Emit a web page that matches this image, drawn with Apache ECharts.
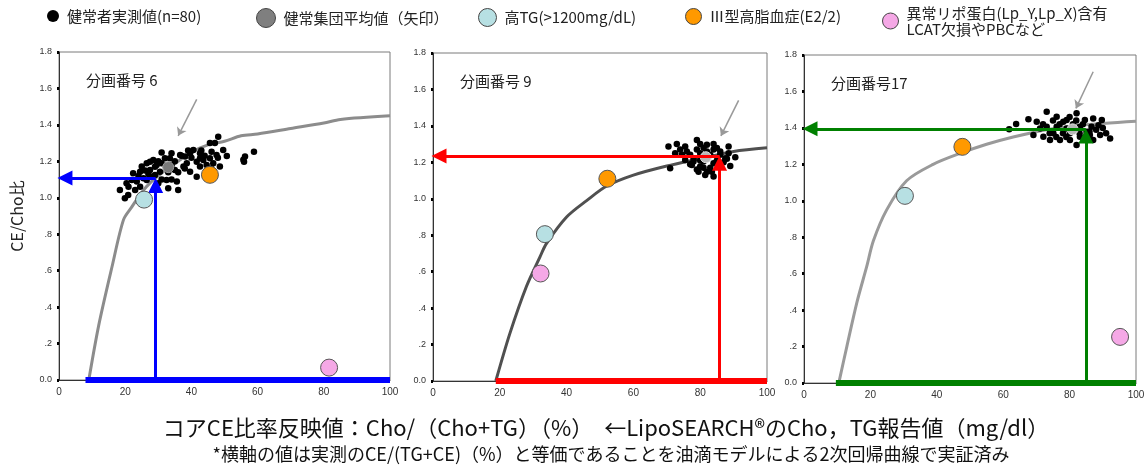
<!DOCTYPE html>
<html>
<head>
    <meta charset="utf-8">
    <title>分画番号 CE/Cho比</title>
    <script type="text/javascript" src="https://cdn.jsdelivr.net/npm/echarts@6/dist/echarts.min.js"></script>
    <style>
        html, body { margin: 0; padding: 0; background: #fff; }
    </style>
</head>
<body>
<!-- 図のコンテナ -->
<div id="main" style="width:1148px;height:471px"></div>
<script type="text/javascript">
    // 凡例名
    var names = ['健常者実測値(n=80)', '健常集団平均値（矢印）', '高TG(>1200mg/dL)', 'Ⅲ型高脂血症(E2/2)', '異常リポ蛋白(Lp_Y,Lp_X)含有\nLCAT欠損やPBCなど'];
    var panelTitles = ['分画番号 6', '分画番号 9', '分画番号17'];
    var yTicks = ['0.0', '.2', '.4', '.6', '.8', '1.0', '1.2', '1.4', '1.6', '1.8'];

    // 回帰曲線 [Cho/(Cho+TG), CE/Cho]
    var curve6 = [[9, 0], [12, 0.3], [16, 0.62], [19.5, 0.88], [22, 0.95], [25, 1.03], [28, 1.09], [32, 1.15], [36, 1.2], [40, 1.25], [45, 1.29], [50, 1.31], [55, 1.34], [60, 1.35], [70, 1.38], [80, 1.41], [85, 1.43], [100, 1.45]];
    var curve9 = [[18.8, 0], [23, 0.26], [28, 0.52], [32, 0.68], [34, 0.755], [40, 0.9], [46, 0.99], [52, 1.07], [60, 1.13], [70, 1.18], [80, 1.22], [90, 1.26], [100, 1.28]];
    var curve17 = [[10.6, 0.01], [12.9, 0.2], [15.9, 0.44], [18.9, 0.64], [20.9, 0.78], [24.9, 0.95], [30.9, 1.11], [38.9, 1.2], [47, 1.26], [55, 1.31], [63, 1.35], [73, 1.39], [83, 1.415], [100, 1.437]];

    // 健常者実測値
    var dots6 = [[48.1, 1.335], [47.1, 1.3], [45.6, 1.3], [58.9, 1.253], [56.2, 1.226], [55.9, 1.198], [50.7, 1.229], [49.6, 1.262], [46.1, 1.253], [42.6, 1.244],
        [40.6, 1.262], [39.6, 1.244], [38.1, 1.226], [36.6, 1.235], [34.0, 1.244], [31.0, 1.248], [33.5, 1.217], [28.5, 1.207], [27.5, 1.198], [26.5, 1.189],
        [29.5, 1.18], [27.5, 1.153], [25.0, 1.171], [24.5, 1.143], [22.4, 1.134], [22.0, 1.098], [20.4, 1.08], [18.4, 1.043], [19.9, 0.997], [20.9, 1.015],
        [26.5, 1.098], [28.0, 1.116], [32.5, 1.098], [35.6, 1.089], [33.0, 1.052], [36.0, 1.043], [30.5, 1.143], [35.0, 1.153], [37.6, 1.171], [41.6, 1.198],
        [43.6, 1.207], [42.6, 1.171], [44.6, 1.18], [46.6, 1.189], [48.6, 1.171], [41.6, 1.116], [30.0, 1.08], [24.5, 1.061], [23.5, 1.089], [38.6, 1.189],
        [39.6, 1.143], [45.6, 1.217], [47.6, 1.235], [42.6, 1.217], [34.0, 1.18], [32.0, 1.217], [29.0, 1.125], [25.5, 1.107], [23.0, 1.043], [55.7, 1.209],
        [29, 1.17], [31, 1.19], [33, 1.14], [27, 1.13], [30, 1.2], [35, 1.2], [36, 1.14], [38, 1.16], [40, 1.22], [44, 1.23],
        [46, 1.16], [26, 1.15], [31, 1.1], [34, 1.1], [37, 1.23], [39, 1.26], [43, 1.26], [48, 1.22], [24, 1.12], [21, 1.06]];
    var dots9 = [[70.5, 1.287], [73, 1.301], [75.5, 1.287], [79, 1.323], [82, 1.296], [85, 1.278], [88.5, 1.287], [90.5, 1.228], [89, 1.18], [86, 1.177],
        [84, 1.122], [82, 1.149], [80, 1.177], [77.5, 1.186], [74.5, 1.241], [72.5, 1.25], [71, 1.167], [77, 1.241], [80, 1.25], [83, 1.241],
        [86, 1.241], [87.5, 1.222], [84, 1.195], [81, 1.204], [78, 1.204], [75.5, 1.213], [79.5, 1.149], [81.5, 1.131], [83.5, 1.149], [85.5, 1.195],
        [88.5, 1.25], [79, 1.27], [81, 1.28], [84, 1.27], [76, 1.26], [78, 1.22], [82, 1.22], [85, 1.21], [83, 1.17], [80, 1.21],
        [87, 1.2], [86, 1.26], [74, 1.27], [77, 1.19], [82, 1.26], [88, 1.22], [79, 1.16], [84, 1.3], [80, 1.3], [81, 1.17]];
    var dots17 = [[61.8, 1.392], [63.9, 1.421], [67.6, 1.447], [70.1, 1.434], [73.1, 1.489], [76.1, 1.461], [79.1, 1.443], [82.1, 1.48], [84.6, 1.443], [87.1, 1.452],
        [89.7, 1.443], [69.1, 1.361], [72.1, 1.351], [75.1, 1.37], [77.1, 1.333], [80.1, 1.333], [82.1, 1.306], [83.1, 1.351], [86.1, 1.361], [89.2, 1.361],
        [92.2, 1.342], [73.1, 1.406], [76.1, 1.406], [79.1, 1.397], [83.1, 1.406], [86.6, 1.406], [88.7, 1.415], [78.1, 1.434], [71.1, 1.397], [74.1, 1.333],
        [80.1, 1.37], [85.1, 1.379], [87.1, 1.333], [75, 1.44], [81, 1.42], [84, 1.42], [86, 1.38], [78, 1.37], [82, 1.44], [88, 1.39],
        [90, 1.4], [74, 1.37], [77, 1.42], [80, 1.46], [83, 1.37], [85, 1.35], [79, 1.35], [76, 1.35], [91, 1.37], [72, 1.42]];

    // 平均値・症例 [x, y]
    var mean6 = [33.0, 1.168], mean9 = [81.7, 1.228], mean17 = [80.9, 1.392];
    var tg6 = [25.7, 0.99], tg9 = [33.5, 0.806], tg17 = [30.4, 1.027];
    var e22_6 = [45.6, 1.126], e22_9 = [52.2, 1.11], e22_17 = [47.7, 1.296];
    var abn6 = [81.6, 0.068], abn9 = [32.2, 0.59], abn17 = [95.2, 0.253];

    // 報告値の読み取り [x, y] と横軸の範囲
    var read6 = [29.2, 1.108], read9 = [85.8, 1.235], read17 = [84.9, 1.395];
    var range6 = [8, 100], range9 = [18.8, 100], range17 = [9.6, 100];
    // 矢印（平均値を指す） [始点x, 始点y, 終点x, 終点y]
    var pointer6 = [41.6, 1.54, 36.0, 1.34];
    var pointer9 = [91.5, 1.54, 86.2, 1.345];
    var pointer17 = [87.1, 1.708, 81.9, 1.507];

    var panels = [
        { curve: curve6, dots: dots6, mean: mean6, tg: tg6, e22: e22_6, abn: abn6, read: read6, range: range6, pointer: pointer6, color: '#0000ff', curveColor: '#8c8c8c', meanColor: '#7a7a7a', meanBorder: '#9a9a9a' },
        { curve: curve9, dots: dots9, mean: mean9, tg: tg9, e22: e22_9, abn: abn9, read: read9, range: range9, pointer: pointer9, color: '#ff0000', curveColor: '#505050', meanColor: '#b8b8b8', meanBorder: '#e0e0e0' },
        { curve: curve17, dots: dots17, mean: mean17, tg: tg17, e22: e22_17, abn: abn17, read: read17, range: range17, pointer: pointer17, color: '#008000', curveColor: '#9a9a9a', meanColor: '#b8b8b8', meanBorder: '#e8e8e8' }
    ];
    var gridPos = [
        { left: 59, top: 52, width: 331, height: 328 },
        { left: 433, top: 53, width: 334, height: 328 },
        { left: 804, top: 55, width: 332, height: 328 }
    ];

    var jp = '"Noto Sans CJK JP", sans-serif';
    var grids = [], xAxes = [], yAxes = [], series = [], titles = [];

    gridPos.forEach(function (g, i) {
        grids.push({ left: g.left, top: g.top, width: g.width, height: g.height, show: true, borderColor: '#7a7a7a', borderWidth: 1 });
        xAxes.push({
            type: 'value', gridIndex: i, min: 0, max: 100, interval: 20,
            splitLine: { show: false },
            axisLine: { show: true, lineStyle: { color: '#333', width: 1 } },
            axisTick: { show: false },
            axisLabel: { fontSize: 10, color: '#333', margin: 7, fontFamily: 'Liberation Sans' }
        });
        yAxes.push({
            type: 'value', gridIndex: i, min: 0, max: 1.8, interval: 0.2,
            name: i === 0 ? 'CE/Cho比' : '', nameLocation: 'middle', nameGap: 34, nameRotate: 90,
            nameTextStyle: { fontSize: 16, color: '#222', fontFamily: jp },
            splitLine: { show: false },
            axisLine: { show: true, lineStyle: { color: '#333', width: 1 } },
            axisTick: { show: true, length: 2, lineStyle: { color: '#000', width: 3 } },
            axisLabel: {
                fontSize: 9, color: '#333', margin: 7, fontFamily: 'Liberation Sans',
                formatter: function (v) { return yTicks[Math.round(v * 5)]; }
            }
        });
        titles.push({ text: panelTitles[i], left: g.left + 22, top: g.top + 16, textStyle: { fontSize: 15, fontWeight: 'normal', color: '#222', fontFamily: jp } });
    });

    panels.forEach(function (p, i) {
        // 回帰曲線
        series.push({
            type: 'line', xAxisIndex: i, yAxisIndex: i, data: p.curve, smooth: 0.3, symbol: 'none', z: 2,
            lineStyle: { color: p.curveColor, width: 3 }, silent: true
        });
        // 横軸の帯
        series.push({
            type: 'line', xAxisIndex: i, yAxisIndex: i, data: [[p.range[0], 0], [p.range[1], 0]], symbol: 'none', clip: false, z: 3,
            lineStyle: { color: p.color, width: 6 }, silent: true
        });
        // 健常者実測値
        series.push({
            name: names[0], type: 'scatter', xAxisIndex: i, yAxisIndex: i, data: p.dots, symbolSize: 6.5, z: 4,
            itemStyle: { color: '#000', opacity: 1 }
        });
        // 平均値
        series.push({
            name: names[1], type: 'scatter', xAxisIndex: i, yAxisIndex: i, data: [p.mean], symbolSize: 11, z: 5,
            itemStyle: { color: p.meanColor, borderColor: p.meanBorder, borderWidth: 1, opacity: 1 }
        });
        // 読み取り矢印
        series.push({
            type: 'lines', coordinateSystem: 'cartesian2d', xAxisIndex: i, yAxisIndex: i, clip: false, z: 6,
            symbol: ['none', 'triangle'], symbolSize: 15, silent: true,
            lineStyle: { color: p.color, width: 3, opacity: 1 },
            data: [
                { coords: [[p.read[0], 0], [p.read[0], p.read[1] - 0.04]] },
                { coords: [[p.read[0], p.read[1]], [1.8, p.read[1]]] }
            ]
        });
        // 平均値を指す矢印
        series.push({
            type: 'lines', coordinateSystem: 'cartesian2d', xAxisIndex: i, yAxisIndex: i, z: 6,
            symbol: ['none', 'arrow'], symbolSize: 8, silent: true,
            lineStyle: { color: '#999', width: 1.5, opacity: 1 },
            data: [{ coords: [[p.pointer[0], p.pointer[1]], [p.pointer[2], p.pointer[3]]] }]
        });
        // 症例
        series.push({
            name: names[2], type: 'scatter', xAxisIndex: i, yAxisIndex: i, data: [p.tg], symbolSize: 17, z: 7,
            itemStyle: { color: '#b7e0e3', borderColor: '#555', borderWidth: 1, opacity: 1 }
        });
        series.push({
            name: names[3], type: 'scatter', xAxisIndex: i, yAxisIndex: i, data: [p.e22], symbolSize: 17, z: 7,
            itemStyle: { color: '#ff9900', borderColor: '#555', borderWidth: 1, opacity: 1 }
        });
        series.push({
            name: names[4], type: 'scatter', xAxisIndex: i, yAxisIndex: i, data: [p.abn], symbolSize: 17, z: 7,
            itemStyle: { color: '#f5a8e6', borderColor: '#555', borderWidth: 1, opacity: 1 }
        });
    });

    // 下部の説明文
    titles.push({
        text: 'コアCE比率反映値：Cho/（Cho+TG）（%）　←LipoSEARCH®のCho，TG報告値（mg/dl）',
        left: 601, top: 412, textAlign: 'center',
        textStyle: { fontSize: 22, fontWeight: 'normal', color: '#111', fontFamily: jp }
    });
    titles.push({
        text: '*横軸の値は実測のCE/(TG+CE)（%）と等価であることを油滴モデルによる2次回帰曲線で実証済み',
        left: 606, top: 440, textAlign: 'center',
        textStyle: { fontSize: 18, fontWeight: 'normal', color: '#111', fontFamily: jp }
    });

    // 凡例（1項目ずつ配置）
    var legendIcons = [
        { left: 47, size: 12, style: { color: '#000' } },
        { left: 256, size: 19, style: { color: '#7f7f7f', borderColor: '#444', borderWidth: 1 } },
        { left: 478, size: 18, style: { color: '#b7e0e3', borderColor: '#444', borderWidth: 1 } },
        { left: 685, size: 16, style: { color: '#ff9900', borderColor: '#444', borderWidth: 1 } },
        { left: 882, size: 16, style: { color: '#f5a8e6', borderColor: '#444', borderWidth: 1 } }
    ];
    var legends = legendIcons.map(function (l, i) {
        return {
            data: [{ name: names[i], icon: 'circle', itemStyle: l.style }],
            left: l.left, top: i === 4 ? 5 : 8, itemWidth: l.size, itemHeight: l.size,
            selectedMode: false, padding: 0,
            textStyle: { fontSize: 15, color: '#222', fontFamily: jp, lineHeight: 16, padding: [0, 0, 0, 3] }
        };
    });

    var myChart = echarts.init(document.getElementById('main'));
    var option = {
        animation: false,
        title: titles,
        legend: legends,
        grid: grids,
        xAxis: xAxes,
        yAxis: yAxes,
        series: series
    };
    myChart.setOption(option);
</script>
</body>
</html>
